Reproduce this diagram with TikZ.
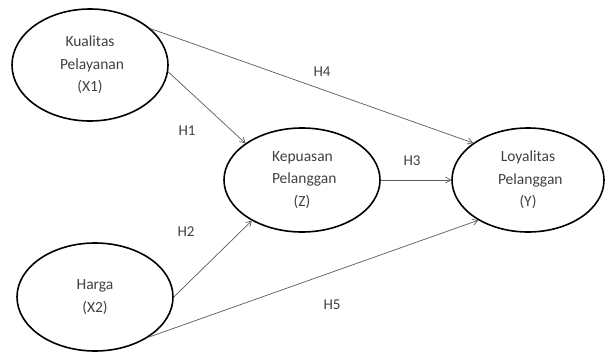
\documentclass[tikz,border=0pt]{standalone}
\usepackage{fontspec}
\setmainfont{Carlito}
\usetikzlibrary{shapes.geometric, arrows.meta}

\begin{document}
\begin{tikzpicture}[x=1pt, y=-1pt]
\tikzset{
>={Straight Barb[length=5pt, width=6pt]},
  variabel/.style={
    ellipse,
    draw=black, line width=1.6pt,
    minimum width=156pt,
    minimum height=112pt,
    inner sep=0pt,
    text width=6em,
    align=center,
    text=black!75,
    font=\fontsize{15.5}{22.5}\selectfont},
  line/.style={draw=black!65, line width=0.7pt, ->},
  hipotesis/.style={text=black!75, font=\fontsize{15}{17}\selectfont},
}
\useasboundingbox (0,0) rectangle (605,351);

\node[variabel] (x1) at (90,65) {Kualitas\\Pelayanan\\(X1)};
\node[variabel, minimum height=108pt] (x2) at (95,297) {Harga\\(X2)};
\node[variabel, minimum height=104pt] (z) at (302,180) {Kepuasan\\Pelanggan\\(Z)};
\node[variabel, minimum width=152pt, minimum height=104pt] (y) at (528,180) {Loyalitas\\Pelanggan\\(Y)};

\draw[line] (x1.-5) -- (z.147);
\draw[line] (x1.31) -- (y.146);
\draw[line] (z.east) -- (y.west);
\draw[line] (x2.east) -- (z.219);
\draw[line] (x2.-37) -- (y.219);

\node[hipotesis] (h1) at (187,131) {H1};
\node[hipotesis] (h2) at (186,232) {H2};
\node[hipotesis] (h3) at (412,161) {H3};
\node[hipotesis] (h4) at (322,72) {H4};
\node[hipotesis] (h5) at (332,305) {H5};

\end{tikzpicture}
\end{document}
